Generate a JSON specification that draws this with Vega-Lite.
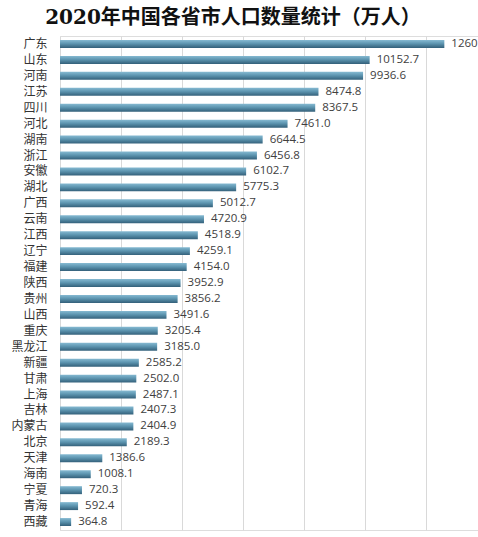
{
  "$schema": "https://vega.github.io/schema/vega-lite/v6.json",
  "autosize": "none",
  "width": 418,
  "height": 494,
  "padding": {"left": 60, "top": 36, "right": 0, "bottom": 7},
  "background": "white",
  "title": {
    "text": "2020年中国各省市人口数量统计（万人）",
    "font": "DejaVu Serif, Noto Sans CJK SC",
    "fontSize": 20,
    "fontWeight": "bold",
    "color": "#111111",
    "anchor": "middle",
    "dx": -36,
    "offset": 8
  },
  "data": {
    "values": [
      {"province": "广东", "pop": 12601.3},
      {"province": "山东", "pop": 10152.7},
      {"province": "河南", "pop": 9936.6},
      {"province": "江苏", "pop": 8474.8},
      {"province": "四川", "pop": 8367.5},
      {"province": "河北", "pop": 7461.0},
      {"province": "湖南", "pop": 6644.5},
      {"province": "浙江", "pop": 6456.8},
      {"province": "安徽", "pop": 6102.7},
      {"province": "湖北", "pop": 5775.3},
      {"province": "广西", "pop": 5012.7},
      {"province": "云南", "pop": 4720.9},
      {"province": "江西", "pop": 4518.9},
      {"province": "辽宁", "pop": 4259.1},
      {"province": "福建", "pop": 4154.0},
      {"province": "陕西", "pop": 3952.9},
      {"province": "贵州", "pop": 3856.2},
      {"province": "山西", "pop": 3491.6},
      {"province": "重庆", "pop": 3205.4},
      {"province": "黑龙江", "pop": 3185.0},
      {"province": "新疆", "pop": 2585.2},
      {"province": "甘肃", "pop": 2502.0},
      {"province": "上海", "pop": 2487.1},
      {"province": "吉林", "pop": 2407.3},
      {"province": "内蒙古", "pop": 2404.9},
      {"province": "北京", "pop": 2189.3},
      {"province": "天津", "pop": 1386.6},
      {"province": "海南", "pop": 1008.1},
      {"province": "宁夏", "pop": 720.3},
      {"province": "青海", "pop": 592.4},
      {"province": "西藏", "pop": 364.8}
    ]
  },
  "encoding": {
    "y": {
      "field": "province",
      "type": "nominal",
      "sort": "-x",
      "title": null,
      "scale": {"paddingInner": 0.5, "paddingOuter": 0.25},
      "axis": {
        "domain": false,
        "ticks": false,
        "labelPadding": 13,
        "labelFont": "Noto Sans CJK SC",
        "labelFontSize": 12,
        "labelColor": "#333333"
      }
    },
    "x": {
      "field": "pop",
      "type": "quantitative",
      "title": null,
      "scale": {"domain": [0, 13705], "nice": false},
      "axis": {
        "values": [0, 2000, 4000, 6000, 8000, 10000, 12000],
        "grid": true,
        "gridColor": "#d9d9d9",
        "domain": false,
        "ticks": false,
        "labels": false
      }
    }
  },
  "layer": [
    {
      "mark": {
        "type": "bar",
        "fill": {
          "gradient": "linear",
          "x1": 0, "y1": 0, "x2": 0, "y2": 1,
          "stops": [
            {"offset": 0, "color": "#86bad2"},
            {"offset": 0.45, "color": "#5d95b0"},
            {"offset": 1, "color": "#33607a"}
          ]
        }
      }
    },
    {
      "mark": {
        "type": "text",
        "align": "left",
        "dx": 7,
        "font": "Open Sans",
        "fontSize": 11.5,
        "color": "#404040"
      },
      "encoding": {
        "text": {"field": "pop", "type": "quantitative", "format": ".1f"}
      }
    }
  ]
}
